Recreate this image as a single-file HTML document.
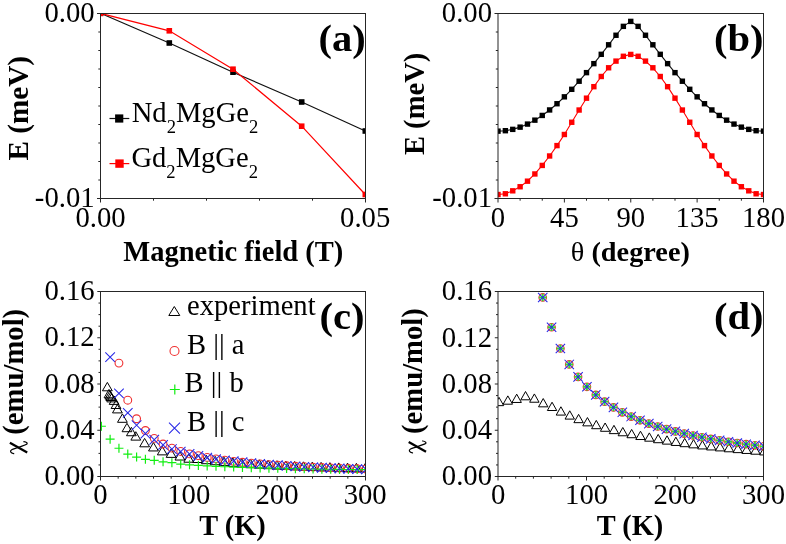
<!DOCTYPE html>
<html><head><meta charset="utf-8"><style>html,body{margin:0;padding:0;background:#fff;width:786px;height:544px;overflow:hidden}svg{display:block;will-change:transform}</style></head><body>
<svg width="786" height="544" viewBox="0 0 786 544" style="font-family:&quot;Liberation Serif&quot;,serif" fill="#000">
<rect width="786" height="544" fill="#fff"/>
<clipPath id="ca"><rect x="100.5" y="13.5" width="265.0" height="185.0"/></clipPath>
<clipPath id="cb"><rect x="498.0" y="13.5" width="265.5" height="185.0"/></clipPath>
<clipPath id="cc"><rect x="100.5" y="291.5" width="265.0" height="185.0"/></clipPath>
<clipPath id="cd"><rect x="498.0" y="291.5" width="265.5" height="185.0"/></clipPath>
<g clip-path="url(#ca)">
<polyline points="100.50,13.30 169.30,43.00 233.00,72.20 301.70,102.00 365.30,131.00" fill="none" stroke="#111" stroke-width="1.2"/>
<polyline points="100.50,13.30 169.30,30.80 233.00,69.20 301.70,126.20 365.30,194.50" fill="none" stroke="#f00" stroke-width="1.2"/>
<rect x="97.70" y="10.50" width="5.6" height="5.6" fill="#000"/>
<rect x="166.50" y="40.20" width="5.6" height="5.6" fill="#000"/>
<rect x="230.20" y="69.40" width="5.6" height="5.6" fill="#000"/>
<rect x="298.90" y="99.20" width="5.6" height="5.6" fill="#000"/>
<rect x="362.50" y="128.20" width="5.6" height="5.6" fill="#000"/>
<rect x="97.70" y="10.50" width="5.6" height="5.6" fill="#f00"/>
<rect x="166.50" y="28.00" width="5.6" height="5.6" fill="#f00"/>
<rect x="230.20" y="66.40" width="5.6" height="5.6" fill="#f00"/>
<rect x="298.90" y="123.40" width="5.6" height="5.6" fill="#f00"/>
<rect x="362.50" y="191.70" width="5.6" height="5.6" fill="#f00"/>
</g>
<rect x="100.5" y="13.5" width="265.00" height="185.00" fill="none" stroke="#262626" stroke-width="1.0"/>
<path d="M100.50 13.50H97.00 M100.50 32.00H98.30 M100.50 50.50H98.30 M100.50 69.00H98.30 M100.50 87.50H98.30 M100.50 106.00H98.30 M100.50 124.50H98.30 M100.50 143.00H98.30 M100.50 161.50H98.30 M100.50 180.00H98.30 M100.50 198.50H97.00" stroke="#262626" stroke-width="1.0" fill="none"/>
<path d="M100.50 198.50V202.50 M153.50 198.50V200.70 M206.50 198.50V200.70 M259.50 198.50V200.70 M312.50 198.50V200.70 M365.50 198.50V202.50" stroke="#262626" stroke-width="1.0" fill="none"/>
<text x="94.60" y="22.00" font-size="28.7" text-anchor="end" font-weight="normal" >0.00</text>
<text x="94.60" y="206.80" font-size="28.7" text-anchor="end" font-weight="normal" >-0.01</text>
<text x="100.50" y="226.50" font-size="28.7" text-anchor="middle" font-weight="normal" >0.00</text>
<text x="365.20" y="226.50" font-size="28.7" text-anchor="middle" font-weight="normal" >0.05</text>
<text x="233.30" y="260.50" font-size="28.5" text-anchor="middle" font-weight="bold" >Magnetic field (T)</text>
<text transform="translate(28.10,160.60) rotate(-90)" font-size="29.2" text-anchor="start" font-weight="bold" >E (meV)</text>
<text transform="translate(342.15,50.65) scale(1.055,1)" font-size="38.4" text-anchor="middle" font-weight="bold">(a)</text>
<path d="M109.5 118.5H129.3" stroke="#111" stroke-width="1.2"/>
<rect x="115.10" y="114.40" width="8.2" height="8.2" fill="#000"/>
<path d="M109.5 163.6H129.3" stroke="#f00" stroke-width="1.2"/>
<rect x="115.30" y="159.40" width="8.4" height="8.4" fill="#f00"/>
<text x="131.70" y="121.60" font-size="28.6">Nd<tspan font-size="18.6" dy="11.3">2</tspan><tspan dy="-11.3">MgGe</tspan><tspan font-size="18.6" dy="11.3">2</tspan></text>
<text x="131.40" y="167.00" font-size="28.6">Gd<tspan font-size="18.6" dy="11.3">2</tspan><tspan dy="-11.3">MgGe</tspan><tspan font-size="18.6" dy="11.3">2</tspan></text>
<g clip-path="url(#cb)">
<polyline points="498.00,131.15 505.38,130.70 512.75,129.37 520.12,127.15 527.50,124.08 534.88,120.16 542.25,115.44 549.62,109.95 557.00,103.73 564.38,96.83 571.75,89.31 579.12,81.22 586.50,72.64 593.88,63.64 601.25,54.32 608.62,44.79 616.00,35.26 623.38,26.36 630.75,21.40 638.12,26.36 645.50,35.26 652.88,44.79 660.25,54.32 667.62,63.64 675.00,72.64 682.38,81.22 689.75,89.31 697.12,96.83 704.50,103.73 711.88,109.95 719.25,115.44 726.62,120.16 734.00,124.08 741.38,127.15 748.75,129.37 756.12,130.70 763.50,131.15" fill="none" stroke="#111" stroke-width="1.1"/>
<polyline points="498.00,194.52 505.38,193.78 512.75,190.82 520.12,186.74 527.50,181.18 534.88,173.96 542.25,165.43 549.62,155.98 557.00,145.60 564.38,134.49 571.75,122.26 579.12,110.03 586.50,98.17 593.88,86.68 601.25,76.49 608.62,67.78 616.00,61.11 623.38,56.29 630.75,54.44 638.12,56.29 645.50,61.11 652.88,67.78 660.25,76.49 667.62,86.68 675.00,98.17 682.38,110.03 689.75,122.26 697.12,134.49 704.50,145.60 711.88,155.98 719.25,165.43 726.62,173.96 734.00,181.18 741.38,186.74 748.75,190.82 756.12,193.78 763.50,194.52" fill="none" stroke="#f00" stroke-width="1.1"/>
<rect x="495.30" y="128.45" width="5.4" height="5.4" fill="#000"/>
<rect x="502.68" y="128.00" width="5.4" height="5.4" fill="#000"/>
<rect x="510.05" y="126.67" width="5.4" height="5.4" fill="#000"/>
<rect x="517.42" y="124.45" width="5.4" height="5.4" fill="#000"/>
<rect x="524.80" y="121.38" width="5.4" height="5.4" fill="#000"/>
<rect x="532.17" y="117.46" width="5.4" height="5.4" fill="#000"/>
<rect x="539.55" y="112.74" width="5.4" height="5.4" fill="#000"/>
<rect x="546.92" y="107.25" width="5.4" height="5.4" fill="#000"/>
<rect x="554.30" y="101.03" width="5.4" height="5.4" fill="#000"/>
<rect x="561.67" y="94.13" width="5.4" height="5.4" fill="#000"/>
<rect x="569.05" y="86.61" width="5.4" height="5.4" fill="#000"/>
<rect x="576.42" y="78.52" width="5.4" height="5.4" fill="#000"/>
<rect x="583.80" y="69.94" width="5.4" height="5.4" fill="#000"/>
<rect x="591.17" y="60.94" width="5.4" height="5.4" fill="#000"/>
<rect x="598.55" y="51.62" width="5.4" height="5.4" fill="#000"/>
<rect x="605.92" y="42.09" width="5.4" height="5.4" fill="#000"/>
<rect x="613.30" y="32.56" width="5.4" height="5.4" fill="#000"/>
<rect x="620.67" y="23.66" width="5.4" height="5.4" fill="#000"/>
<rect x="628.05" y="18.70" width="5.4" height="5.4" fill="#000"/>
<rect x="635.42" y="23.66" width="5.4" height="5.4" fill="#000"/>
<rect x="642.80" y="32.56" width="5.4" height="5.4" fill="#000"/>
<rect x="650.17" y="42.09" width="5.4" height="5.4" fill="#000"/>
<rect x="657.55" y="51.62" width="5.4" height="5.4" fill="#000"/>
<rect x="664.92" y="60.94" width="5.4" height="5.4" fill="#000"/>
<rect x="672.30" y="69.94" width="5.4" height="5.4" fill="#000"/>
<rect x="679.67" y="78.52" width="5.4" height="5.4" fill="#000"/>
<rect x="687.05" y="86.61" width="5.4" height="5.4" fill="#000"/>
<rect x="694.42" y="94.13" width="5.4" height="5.4" fill="#000"/>
<rect x="701.80" y="101.03" width="5.4" height="5.4" fill="#000"/>
<rect x="709.17" y="107.25" width="5.4" height="5.4" fill="#000"/>
<rect x="716.55" y="112.74" width="5.4" height="5.4" fill="#000"/>
<rect x="723.92" y="117.46" width="5.4" height="5.4" fill="#000"/>
<rect x="731.30" y="121.38" width="5.4" height="5.4" fill="#000"/>
<rect x="738.67" y="124.45" width="5.4" height="5.4" fill="#000"/>
<rect x="746.05" y="126.67" width="5.4" height="5.4" fill="#000"/>
<rect x="753.42" y="128.00" width="5.4" height="5.4" fill="#000"/>
<rect x="760.80" y="128.45" width="5.4" height="5.4" fill="#000"/>
<rect x="495.30" y="191.82" width="5.4" height="5.4" fill="#f00"/>
<rect x="502.68" y="191.08" width="5.4" height="5.4" fill="#f00"/>
<rect x="510.05" y="188.12" width="5.4" height="5.4" fill="#f00"/>
<rect x="517.42" y="184.04" width="5.4" height="5.4" fill="#f00"/>
<rect x="524.80" y="178.48" width="5.4" height="5.4" fill="#f00"/>
<rect x="532.17" y="171.26" width="5.4" height="5.4" fill="#f00"/>
<rect x="539.55" y="162.73" width="5.4" height="5.4" fill="#f00"/>
<rect x="546.92" y="153.28" width="5.4" height="5.4" fill="#f00"/>
<rect x="554.30" y="142.90" width="5.4" height="5.4" fill="#f00"/>
<rect x="561.67" y="131.79" width="5.4" height="5.4" fill="#f00"/>
<rect x="569.05" y="119.56" width="5.4" height="5.4" fill="#f00"/>
<rect x="576.42" y="107.33" width="5.4" height="5.4" fill="#f00"/>
<rect x="583.80" y="95.47" width="5.4" height="5.4" fill="#f00"/>
<rect x="591.17" y="83.98" width="5.4" height="5.4" fill="#f00"/>
<rect x="598.55" y="73.79" width="5.4" height="5.4" fill="#f00"/>
<rect x="605.92" y="65.08" width="5.4" height="5.4" fill="#f00"/>
<rect x="613.30" y="58.41" width="5.4" height="5.4" fill="#f00"/>
<rect x="620.67" y="53.59" width="5.4" height="5.4" fill="#f00"/>
<rect x="628.05" y="51.74" width="5.4" height="5.4" fill="#f00"/>
<rect x="635.42" y="53.59" width="5.4" height="5.4" fill="#f00"/>
<rect x="642.80" y="58.41" width="5.4" height="5.4" fill="#f00"/>
<rect x="650.17" y="65.08" width="5.4" height="5.4" fill="#f00"/>
<rect x="657.55" y="73.79" width="5.4" height="5.4" fill="#f00"/>
<rect x="664.92" y="83.98" width="5.4" height="5.4" fill="#f00"/>
<rect x="672.30" y="95.47" width="5.4" height="5.4" fill="#f00"/>
<rect x="679.67" y="107.33" width="5.4" height="5.4" fill="#f00"/>
<rect x="687.05" y="119.56" width="5.4" height="5.4" fill="#f00"/>
<rect x="694.42" y="131.79" width="5.4" height="5.4" fill="#f00"/>
<rect x="701.80" y="142.90" width="5.4" height="5.4" fill="#f00"/>
<rect x="709.17" y="153.28" width="5.4" height="5.4" fill="#f00"/>
<rect x="716.55" y="162.73" width="5.4" height="5.4" fill="#f00"/>
<rect x="723.92" y="171.26" width="5.4" height="5.4" fill="#f00"/>
<rect x="731.30" y="178.48" width="5.4" height="5.4" fill="#f00"/>
<rect x="738.67" y="184.04" width="5.4" height="5.4" fill="#f00"/>
<rect x="746.05" y="188.12" width="5.4" height="5.4" fill="#f00"/>
<rect x="753.42" y="191.08" width="5.4" height="5.4" fill="#f00"/>
<rect x="760.80" y="191.82" width="5.4" height="5.4" fill="#f00"/>
</g>
<rect x="498.0" y="13.5" width="265.50" height="185.00" fill="none" stroke="#262626" stroke-width="1.0"/>
<path d="M498.00 13.50H494.50 M498.00 32.00H495.80 M498.00 50.50H495.80 M498.00 69.00H495.80 M498.00 87.50H495.80 M498.00 106.00H495.80 M498.00 124.50H495.80 M498.00 143.00H495.80 M498.00 161.50H495.80 M498.00 180.00H495.80 M498.00 198.50H494.50" stroke="#262626" stroke-width="1.0" fill="none"/>
<path d="M498.00 198.50V202.50 M520.12 198.50V200.70 M542.25 198.50V200.70 M564.38 198.50V202.50 M586.50 198.50V200.70 M608.62 198.50V200.70 M630.75 198.50V202.50 M652.88 198.50V200.70 M675.00 198.50V200.70 M697.12 198.50V202.50 M719.25 198.50V200.70 M741.38 198.50V200.70 M763.50 198.50V202.50" stroke="#262626" stroke-width="1.0" fill="none"/>
<text x="492.00" y="22.00" font-size="28.7" text-anchor="end" font-weight="normal" >0.00</text>
<text x="492.00" y="206.80" font-size="28.7" text-anchor="end" font-weight="normal" >-0.01</text>
<text x="498.00" y="226.50" font-size="28.7" text-anchor="middle" font-weight="normal" >0</text>
<text x="564.38" y="226.50" font-size="28.7" text-anchor="middle" font-weight="normal" >45</text>
<text x="630.75" y="226.50" font-size="28.7" text-anchor="middle" font-weight="normal" >90</text>
<text x="697.12" y="226.50" font-size="28.7" text-anchor="middle" font-weight="normal" >135</text>
<text x="763.50" y="226.50" font-size="28.7" text-anchor="middle" font-weight="normal" >180</text>
<text transform="translate(630.35,261.1) scale(1.025,1)" font-size="27.6" text-anchor="middle" font-weight="bold"><tspan font-weight="normal">&#952;</tspan> (degree)</text>
<text transform="translate(424.00,155.10) rotate(-90)" font-size="28.6" text-anchor="start" font-weight="bold" >E (meV)</text>
<text transform="translate(738.75,50.85) scale(1.055,1)" font-size="38.4" text-anchor="middle" font-weight="bold">(b)</text>
<g clip-path="url(#cc)">
<path d="M107.35 382.40L112.25 390.80H102.45Z" fill="none" stroke="#000" stroke-width="1.0" stroke-linejoin="miter"/>
<path d="M109.00 389.40L113.90 397.80H104.10Z" fill="none" stroke="#000" stroke-width="1.0" stroke-linejoin="miter"/>
<path d="M109.90 390.70L114.80 399.10H105.00Z" fill="none" stroke="#000" stroke-width="1.0" stroke-linejoin="miter"/>
<path d="M110.80 392.10L115.70 400.50H105.90Z" fill="none" stroke="#000" stroke-width="1.0" stroke-linejoin="miter"/>
<path d="M111.70 393.50L116.60 401.90H106.80Z" fill="none" stroke="#000" stroke-width="1.0" stroke-linejoin="miter"/>
<path d="M114.10 396.00L119.00 404.40H109.20Z" fill="none" stroke="#000" stroke-width="1.0" stroke-linejoin="miter"/>
<path d="M116.00 400.10L120.90 408.50H111.10Z" fill="none" stroke="#000" stroke-width="1.0" stroke-linejoin="miter"/>
<path d="M117.40 404.50L122.30 412.90H112.50Z" fill="none" stroke="#000" stroke-width="1.0" stroke-linejoin="miter"/>
<path d="M122.40 413.90L127.30 422.30H117.50Z" fill="none" stroke="#000" stroke-width="1.0" stroke-linejoin="miter"/>
<path d="M126.97 423.31L131.87 431.71H122.07Z" fill="none" stroke="#000" stroke-width="1.0" stroke-linejoin="miter"/>
<path d="M131.38 427.34L136.28 435.74H126.48Z" fill="none" stroke="#000" stroke-width="1.0" stroke-linejoin="miter"/>
<path d="M135.79 431.71L140.69 440.11H130.89Z" fill="none" stroke="#000" stroke-width="1.0" stroke-linejoin="miter"/>
<path d="M144.62 438.40L149.52 446.80H139.72Z" fill="none" stroke="#000" stroke-width="1.0" stroke-linejoin="miter"/>
<path d="M153.44 442.54L158.34 450.94H148.54Z" fill="none" stroke="#000" stroke-width="1.0" stroke-linejoin="miter"/>
<path d="M162.26 446.46L167.16 454.86H157.36Z" fill="none" stroke="#000" stroke-width="1.0" stroke-linejoin="miter"/>
<path d="M171.09 448.99L175.99 457.39H166.19Z" fill="none" stroke="#000" stroke-width="1.0" stroke-linejoin="miter"/>
<path d="M179.91 451.64L184.81 460.04H175.01Z" fill="none" stroke="#000" stroke-width="1.0" stroke-linejoin="miter"/>
<path d="M188.73 453.83L193.63 462.23H183.83Z" fill="none" stroke="#000" stroke-width="1.0" stroke-linejoin="miter"/>
<path d="M197.56 454.11L202.46 462.51H192.66Z" fill="none" stroke="#000" stroke-width="1.0" stroke-linejoin="miter"/>
<path d="M206.38 455.30L211.28 463.70H201.48Z" fill="none" stroke="#000" stroke-width="1.0" stroke-linejoin="miter"/>
<path d="M215.20 456.32L220.10 464.72H210.30Z" fill="none" stroke="#000" stroke-width="1.0" stroke-linejoin="miter"/>
<path d="M224.03 457.20L228.93 465.60H219.13Z" fill="none" stroke="#000" stroke-width="1.0" stroke-linejoin="miter"/>
<path d="M232.85 457.97L237.75 466.37H227.95Z" fill="none" stroke="#000" stroke-width="1.0" stroke-linejoin="miter"/>
<path d="M241.67 458.65L246.57 467.05H236.77Z" fill="none" stroke="#000" stroke-width="1.0" stroke-linejoin="miter"/>
<path d="M250.50 459.26L255.40 467.66H245.60Z" fill="none" stroke="#000" stroke-width="1.0" stroke-linejoin="miter"/>
<path d="M259.32 459.80L264.22 468.20H254.42Z" fill="none" stroke="#000" stroke-width="1.0" stroke-linejoin="miter"/>
<path d="M268.14 460.28L273.04 468.68H263.24Z" fill="none" stroke="#000" stroke-width="1.0" stroke-linejoin="miter"/>
<path d="M276.97 460.72L281.87 469.12H272.07Z" fill="none" stroke="#000" stroke-width="1.0" stroke-linejoin="miter"/>
<path d="M285.79 461.12L290.69 469.52H280.89Z" fill="none" stroke="#000" stroke-width="1.0" stroke-linejoin="miter"/>
<path d="M294.61 461.49L299.51 469.89H289.71Z" fill="none" stroke="#000" stroke-width="1.0" stroke-linejoin="miter"/>
<path d="M303.44 461.82L308.34 470.22H298.54Z" fill="none" stroke="#000" stroke-width="1.0" stroke-linejoin="miter"/>
<path d="M312.26 462.13L317.16 470.53H307.36Z" fill="none" stroke="#000" stroke-width="1.0" stroke-linejoin="miter"/>
<path d="M321.08 462.41L325.98 470.81H316.18Z" fill="none" stroke="#000" stroke-width="1.0" stroke-linejoin="miter"/>
<path d="M329.91 462.67L334.81 471.07H325.01Z" fill="none" stroke="#000" stroke-width="1.0" stroke-linejoin="miter"/>
<path d="M338.73 462.92L343.63 471.32H333.83Z" fill="none" stroke="#000" stroke-width="1.0" stroke-linejoin="miter"/>
<path d="M347.55 463.14L352.45 471.54H342.65Z" fill="none" stroke="#000" stroke-width="1.0" stroke-linejoin="miter"/>
<path d="M356.38 463.36L361.28 471.76H351.48Z" fill="none" stroke="#000" stroke-width="1.0" stroke-linejoin="miter"/>
<path d="M365.20 463.55L370.10 471.95H360.30Z" fill="none" stroke="#000" stroke-width="1.0" stroke-linejoin="miter"/>
<circle cx="118.95" cy="363.12" r="3.9" fill="none" stroke="#f03030" stroke-width="1.1"/>
<circle cx="127.77" cy="400.21" r="3.9" fill="none" stroke="#f03030" stroke-width="1.1"/>
<circle cx="136.59" cy="418.75" r="3.9" fill="none" stroke="#f03030" stroke-width="1.1"/>
<circle cx="145.42" cy="430.50" r="3.9" fill="none" stroke="#f03030" stroke-width="1.1"/>
<circle cx="154.24" cy="438.33" r="3.9" fill="none" stroke="#f03030" stroke-width="1.1"/>
<circle cx="163.06" cy="443.98" r="3.9" fill="none" stroke="#f03030" stroke-width="1.1"/>
<circle cx="171.89" cy="448.12" r="3.9" fill="none" stroke="#f03030" stroke-width="1.1"/>
<circle cx="180.71" cy="451.47" r="3.9" fill="none" stroke="#f03030" stroke-width="1.1"/>
<circle cx="189.53" cy="453.88" r="3.9" fill="none" stroke="#f03030" stroke-width="1.1"/>
<circle cx="198.36" cy="455.72" r="3.9" fill="none" stroke="#f03030" stroke-width="1.1"/>
<circle cx="207.18" cy="457.47" r="3.9" fill="none" stroke="#f03030" stroke-width="1.1"/>
<circle cx="216.00" cy="458.95" r="3.9" fill="none" stroke="#f03030" stroke-width="1.1"/>
<circle cx="224.83" cy="460.22" r="3.9" fill="none" stroke="#f03030" stroke-width="1.1"/>
<circle cx="233.65" cy="461.33" r="3.9" fill="none" stroke="#f03030" stroke-width="1.1"/>
<circle cx="242.47" cy="462.29" r="3.9" fill="none" stroke="#f03030" stroke-width="1.1"/>
<circle cx="251.30" cy="463.15" r="3.9" fill="none" stroke="#f03030" stroke-width="1.1"/>
<circle cx="260.12" cy="463.90" r="3.9" fill="none" stroke="#f03030" stroke-width="1.1"/>
<circle cx="268.94" cy="464.58" r="3.9" fill="none" stroke="#f03030" stroke-width="1.1"/>
<circle cx="277.77" cy="465.19" r="3.9" fill="none" stroke="#f03030" stroke-width="1.1"/>
<circle cx="286.59" cy="465.75" r="3.9" fill="none" stroke="#f03030" stroke-width="1.1"/>
<circle cx="295.41" cy="466.25" r="3.9" fill="none" stroke="#f03030" stroke-width="1.1"/>
<circle cx="304.24" cy="466.71" r="3.9" fill="none" stroke="#f03030" stroke-width="1.1"/>
<circle cx="313.06" cy="467.13" r="3.9" fill="none" stroke="#f03030" stroke-width="1.1"/>
<circle cx="321.88" cy="467.52" r="3.9" fill="none" stroke="#f03030" stroke-width="1.1"/>
<circle cx="330.71" cy="467.87" r="3.9" fill="none" stroke="#f03030" stroke-width="1.1"/>
<circle cx="339.53" cy="468.20" r="3.9" fill="none" stroke="#f03030" stroke-width="1.1"/>
<circle cx="348.35" cy="468.51" r="3.9" fill="none" stroke="#f03030" stroke-width="1.1"/>
<circle cx="357.18" cy="468.80" r="3.9" fill="none" stroke="#f03030" stroke-width="1.1"/>
<circle cx="366.00" cy="469.07" r="3.9" fill="none" stroke="#f03030" stroke-width="1.1"/>
<path d="M96.90 426.24H105.90M101.40 421.74V430.74" stroke="#1e1" stroke-width="1.2" fill="none"/>
<path d="M105.62 439.14H114.62M110.12 434.64V443.64" stroke="#1e1" stroke-width="1.2" fill="none"/>
<path d="M114.45 448.24H123.45M118.95 443.74V452.74" stroke="#1e1" stroke-width="1.2" fill="none"/>
<path d="M123.27 454.11H132.27M127.77 449.61V458.61" stroke="#1e1" stroke-width="1.2" fill="none"/>
<path d="M132.09 457.11H141.09M136.59 452.61V461.61" stroke="#1e1" stroke-width="1.2" fill="none"/>
<path d="M140.92 459.30H149.92M145.42 454.80V463.80" stroke="#1e1" stroke-width="1.2" fill="none"/>
<path d="M149.74 460.33H158.74M154.24 455.83V464.83" stroke="#1e1" stroke-width="1.2" fill="none"/>
<path d="M158.56 461.83H167.56M163.06 457.33V466.33" stroke="#1e1" stroke-width="1.2" fill="none"/>
<path d="M167.39 462.64H176.39M171.89 458.14V467.14" stroke="#1e1" stroke-width="1.2" fill="none"/>
<path d="M176.21 464.07H185.21M180.71 459.57V468.57" stroke="#1e1" stroke-width="1.2" fill="none"/>
<path d="M185.03 464.79H194.03M189.53 460.29V469.29" stroke="#1e1" stroke-width="1.2" fill="none"/>
<path d="M193.86 465.40H202.86M198.36 460.90V469.90" stroke="#1e1" stroke-width="1.2" fill="none"/>
<path d="M202.68 465.92H211.68M207.18 461.42V470.42" stroke="#1e1" stroke-width="1.2" fill="none"/>
<path d="M211.50 466.37H220.50M216.00 461.87V470.87" stroke="#1e1" stroke-width="1.2" fill="none"/>
<path d="M220.33 466.76H229.33M224.83 462.26V471.26" stroke="#1e1" stroke-width="1.2" fill="none"/>
<path d="M229.15 467.11H238.15M233.65 462.61V471.61" stroke="#1e1" stroke-width="1.2" fill="none"/>
<path d="M237.97 467.41H246.97M242.47 462.91V471.91" stroke="#1e1" stroke-width="1.2" fill="none"/>
<path d="M246.80 467.69H255.80M251.30 463.19V472.19" stroke="#1e1" stroke-width="1.2" fill="none"/>
<path d="M255.62 467.93H264.62M260.12 463.43V472.43" stroke="#1e1" stroke-width="1.2" fill="none"/>
<path d="M264.44 468.16H273.44M268.94 463.66V472.66" stroke="#1e1" stroke-width="1.2" fill="none"/>
<path d="M273.27 468.36H282.27M277.77 463.86V472.86" stroke="#1e1" stroke-width="1.2" fill="none"/>
<path d="M282.09 468.54H291.09M286.59 464.04V473.04" stroke="#1e1" stroke-width="1.2" fill="none"/>
<path d="M290.91 468.71H299.91M295.41 464.21V473.21" stroke="#1e1" stroke-width="1.2" fill="none"/>
<path d="M299.74 468.87H308.74M304.24 464.37V473.37" stroke="#1e1" stroke-width="1.2" fill="none"/>
<path d="M308.56 469.01H317.56M313.06 464.51V473.51" stroke="#1e1" stroke-width="1.2" fill="none"/>
<path d="M317.38 469.14H326.38M321.88 464.64V473.64" stroke="#1e1" stroke-width="1.2" fill="none"/>
<path d="M326.21 469.27H335.21M330.71 464.77V473.77" stroke="#1e1" stroke-width="1.2" fill="none"/>
<path d="M335.03 469.38H344.03M339.53 464.88V473.88" stroke="#1e1" stroke-width="1.2" fill="none"/>
<path d="M343.85 469.49H352.85M348.35 464.99V473.99" stroke="#1e1" stroke-width="1.2" fill="none"/>
<path d="M352.68 469.59H361.68M357.18 465.09V474.09" stroke="#1e1" stroke-width="1.2" fill="none"/>
<path d="M361.50 469.68H370.50M366.00 465.18V474.18" stroke="#1e1" stroke-width="1.2" fill="none"/>
<path d="M105.32 352.33L114.92 361.93M105.32 361.93L114.92 352.33" stroke="#2828e6" stroke-width="1.05" fill="none"/>
<path d="M114.15 388.61L123.75 398.21M114.15 398.21L123.75 388.61" stroke="#2828e6" stroke-width="1.05" fill="none"/>
<path d="M122.97 408.08L132.57 417.68M122.97 417.68L132.57 408.08" stroke="#2828e6" stroke-width="1.05" fill="none"/>
<path d="M131.79 420.40L141.39 430.00M131.79 430.00L141.39 420.40" stroke="#2828e6" stroke-width="1.05" fill="none"/>
<path d="M140.62 428.70L150.22 438.30M140.62 438.30L150.22 428.70" stroke="#2828e6" stroke-width="1.05" fill="none"/>
<path d="M149.44 434.92L159.04 444.52M149.44 444.52L159.04 434.92" stroke="#2828e6" stroke-width="1.05" fill="none"/>
<path d="M158.26 440.10L167.86 449.70M158.26 449.70L167.86 440.10" stroke="#2828e6" stroke-width="1.05" fill="none"/>
<path d="M167.09 444.25L176.69 453.85M167.09 453.85L176.69 444.25" stroke="#2828e6" stroke-width="1.05" fill="none"/>
<path d="M175.91 446.78L185.51 456.38M175.91 456.38L185.51 446.78" stroke="#2828e6" stroke-width="1.05" fill="none"/>
<path d="M184.73 449.19L194.33 458.79M184.73 458.79L194.33 449.19" stroke="#2828e6" stroke-width="1.05" fill="none"/>
<path d="M193.56 451.21L203.16 460.81M193.56 460.81L203.16 451.21" stroke="#2828e6" stroke-width="1.05" fill="none"/>
<path d="M202.38 452.93L211.98 462.53M202.38 462.53L211.98 452.93" stroke="#2828e6" stroke-width="1.05" fill="none"/>
<path d="M211.20 454.41L220.80 464.01M211.20 464.01L220.80 454.41" stroke="#2828e6" stroke-width="1.05" fill="none"/>
<path d="M220.03 455.69L229.63 465.29M220.03 465.29L229.63 455.69" stroke="#2828e6" stroke-width="1.05" fill="none"/>
<path d="M228.85 456.36L238.45 465.96M228.85 465.96L238.45 456.36" stroke="#2828e6" stroke-width="1.05" fill="none"/>
<path d="M237.67 457.36L247.27 466.96M237.67 466.96L247.27 457.36" stroke="#2828e6" stroke-width="1.05" fill="none"/>
<path d="M246.50 458.25L256.10 467.85M246.50 467.85L256.10 458.25" stroke="#2828e6" stroke-width="1.05" fill="none"/>
<path d="M255.32 459.04L264.92 468.64M255.32 468.64L264.92 459.04" stroke="#2828e6" stroke-width="1.05" fill="none"/>
<path d="M264.14 459.76L273.74 469.36M264.14 469.36L273.74 459.76" stroke="#2828e6" stroke-width="1.05" fill="none"/>
<path d="M272.97 460.41L282.57 470.01M272.97 470.01L282.57 460.41" stroke="#2828e6" stroke-width="1.05" fill="none"/>
<path d="M281.79 461.00L291.39 470.60M281.79 470.60L291.39 461.00" stroke="#2828e6" stroke-width="1.05" fill="none"/>
<path d="M290.61 461.54L300.21 471.14M290.61 471.14L300.21 461.54" stroke="#2828e6" stroke-width="1.05" fill="none"/>
<path d="M299.44 462.04L309.04 471.64M299.44 471.64L309.04 462.04" stroke="#2828e6" stroke-width="1.05" fill="none"/>
<path d="M308.26 462.50L317.86 472.10M308.26 472.10L317.86 462.50" stroke="#2828e6" stroke-width="1.05" fill="none"/>
<path d="M317.08 462.92L326.68 472.52M317.08 472.52L326.68 462.92" stroke="#2828e6" stroke-width="1.05" fill="none"/>
<path d="M325.91 463.31L335.51 472.91M325.91 472.91L335.51 463.31" stroke="#2828e6" stroke-width="1.05" fill="none"/>
<path d="M334.73 463.68L344.33 473.28M334.73 473.28L344.33 463.68" stroke="#2828e6" stroke-width="1.05" fill="none"/>
<path d="M343.55 464.02L353.15 473.62M343.55 473.62L353.15 464.02" stroke="#2828e6" stroke-width="1.05" fill="none"/>
<path d="M352.38 464.33L361.98 473.93M352.38 473.93L361.98 464.33" stroke="#2828e6" stroke-width="1.05" fill="none"/>
<path d="M361.20 464.63L370.80 474.23M361.20 474.23L370.80 464.63" stroke="#2828e6" stroke-width="1.05" fill="none"/>
</g>
<rect x="100.5" y="291.5" width="265.00" height="185.00" fill="none" stroke="#262626" stroke-width="1.0"/>
<path d="M100.50 291.50H97.30 M100.50 303.06H98.50 M100.50 314.62H98.50 M100.50 326.19H98.50 M100.50 337.75H97.30 M100.50 349.31H98.50 M100.50 360.88H98.50 M100.50 372.44H98.50 M100.50 384.00H97.30 M100.50 395.56H98.50 M100.50 407.12H98.50 M100.50 418.69H98.50 M100.50 430.25H97.30 M100.50 441.81H98.50 M100.50 453.38H98.50 M100.50 464.94H98.50 M100.50 476.50H97.30" stroke="#262626" stroke-width="1.0" fill="none"/>
<path d="M100.50 476.50V480.50 M118.17 476.50V478.70 M135.83 476.50V478.70 M153.50 476.50V478.70 M171.17 476.50V478.70 M188.83 476.50V480.50 M206.50 476.50V478.70 M224.17 476.50V478.70 M241.83 476.50V478.70 M259.50 476.50V478.70 M277.17 476.50V480.50 M294.83 476.50V478.70 M312.50 476.50V478.70 M330.17 476.50V478.70 M347.83 476.50V478.70 M365.50 476.50V480.50" stroke="#262626" stroke-width="1.0" fill="none"/>
<text x="94.60" y="484.70" font-size="28.7" text-anchor="end" font-weight="normal" >0.00</text>
<text x="94.60" y="438.62" font-size="28.7" text-anchor="end" font-weight="normal" >0.04</text>
<text x="94.60" y="392.55" font-size="28.7" text-anchor="end" font-weight="normal" >0.08</text>
<text x="94.60" y="346.47" font-size="28.7" text-anchor="end" font-weight="normal" >0.12</text>
<text x="94.60" y="300.40" font-size="28.7" text-anchor="end" font-weight="normal" >0.16</text>
<text x="100.50" y="504.00" font-size="28.7" text-anchor="middle" font-weight="normal" >0</text>
<text x="188.73" y="504.00" font-size="28.7" text-anchor="middle" font-weight="normal" >100</text>
<text x="276.97" y="504.00" font-size="28.7" text-anchor="middle" font-weight="normal" >200</text>
<text x="365.20" y="504.00" font-size="28.7" text-anchor="middle" font-weight="normal" >300</text>
<text x="232.50" y="535.20" font-size="28.4" text-anchor="middle" font-weight="bold" >T (K)</text>
<g transform="translate(23.3,454.6) rotate(-90)"><path d="M11.9 -13.4 L2.2 3.9" stroke="#000" stroke-width="2.3" stroke-linecap="butt" fill="none"/><path d="M1.0 -9.6 C1.4 -12.6 3.6 -13.9 4.9 -11.6 C5.9 -9.6 6.4 -6.6 7.3 -4.6 C8.4 -1.8 9.3 1.6 10.3 3.3 C11.2 4.6 12.6 3.3 12.9 0.6" stroke="#000" stroke-width="1.25" stroke-linecap="round" fill="none"/><text x="19.9" y="0" font-size="28.7" font-weight="bold">(emu/mol)</text></g>
<text transform="translate(342.00,328.65) scale(1.06,1)" font-size="38.4" text-anchor="middle" font-weight="bold">(c)</text>
<path d="M174.30 306.50L179.80 315.50H168.80Z" fill="none" stroke="#000" stroke-width="1.0" stroke-linejoin="miter"/>
<text x="187.00" y="315.10" font-size="28.6" text-anchor="start" font-weight="normal" >experiment</text>
<circle cx="174.50" cy="351.00" r="4.5" fill="none" stroke="#f03030" stroke-width="1.1"/>
<text x="187.00" y="353.60" font-size="28.6" text-anchor="start" font-weight="normal" >B || a</text>
<path d="M169.80 389.50H179.80M174.80 384.50V394.50" stroke="#1e1" stroke-width="1.2" fill="none"/>
<text x="184.60" y="392.20" font-size="28.6" text-anchor="start" font-weight="normal" >B || b</text>
<path d="M169.00 422.60L180.00 433.60M169.00 433.60L180.00 422.60" stroke="#2828e6" stroke-width="1.05" fill="none"/>
<text x="187.00" y="430.80" font-size="28.6" text-anchor="start" font-weight="normal" >B || c</text>
<g clip-path="url(#cd)">
<path d="M499.00 397.35L503.70 405.65H494.30Z" fill="none" stroke="#000" stroke-width="1.0" stroke-linejoin="miter"/>
<path d="M507.84 395.89L512.54 404.19H503.14Z" fill="none" stroke="#000" stroke-width="1.0" stroke-linejoin="miter"/>
<path d="M516.69 394.16L521.39 402.46H511.99Z" fill="none" stroke="#000" stroke-width="1.0" stroke-linejoin="miter"/>
<path d="M525.53 391.51L530.23 399.81H520.83Z" fill="none" stroke="#000" stroke-width="1.0" stroke-linejoin="miter"/>
<path d="M534.37 393.93L539.07 402.23H529.67Z" fill="none" stroke="#000" stroke-width="1.0" stroke-linejoin="miter"/>
<path d="M543.22 398.54L547.92 406.84H538.52Z" fill="none" stroke="#000" stroke-width="1.0" stroke-linejoin="miter"/>
<path d="M552.06 402.21L556.76 410.51H547.36Z" fill="none" stroke="#000" stroke-width="1.0" stroke-linejoin="miter"/>
<path d="M560.90 406.78L565.60 415.08H556.20Z" fill="none" stroke="#000" stroke-width="1.0" stroke-linejoin="miter"/>
<path d="M569.75 410.80L574.45 419.10H565.05Z" fill="none" stroke="#000" stroke-width="1.0" stroke-linejoin="miter"/>
<path d="M578.59 414.37L583.29 422.67H573.89Z" fill="none" stroke="#000" stroke-width="1.0" stroke-linejoin="miter"/>
<path d="M587.43 417.55L592.13 425.85H582.73Z" fill="none" stroke="#000" stroke-width="1.0" stroke-linejoin="miter"/>
<path d="M596.28 420.41L600.98 428.71H591.58Z" fill="none" stroke="#000" stroke-width="1.0" stroke-linejoin="miter"/>
<path d="M605.12 422.99L609.82 431.29H600.42Z" fill="none" stroke="#000" stroke-width="1.0" stroke-linejoin="miter"/>
<path d="M613.96 425.33L618.66 433.63H609.26Z" fill="none" stroke="#000" stroke-width="1.0" stroke-linejoin="miter"/>
<path d="M622.81 427.47L627.51 435.77H618.11Z" fill="none" stroke="#000" stroke-width="1.0" stroke-linejoin="miter"/>
<path d="M631.65 429.43L636.35 437.73H626.95Z" fill="none" stroke="#000" stroke-width="1.0" stroke-linejoin="miter"/>
<path d="M640.49 431.22L645.19 439.52H635.79Z" fill="none" stroke="#000" stroke-width="1.0" stroke-linejoin="miter"/>
<path d="M649.34 432.88L654.04 441.18H644.64Z" fill="none" stroke="#000" stroke-width="1.0" stroke-linejoin="miter"/>
<path d="M658.18 434.41L662.88 442.71H653.48Z" fill="none" stroke="#000" stroke-width="1.0" stroke-linejoin="miter"/>
<path d="M667.02 435.84L671.72 444.14H662.32Z" fill="none" stroke="#000" stroke-width="1.0" stroke-linejoin="miter"/>
<path d="M675.87 437.16L680.57 445.46H671.17Z" fill="none" stroke="#000" stroke-width="1.0" stroke-linejoin="miter"/>
<path d="M684.71 438.39L689.41 446.69H680.01Z" fill="none" stroke="#000" stroke-width="1.0" stroke-linejoin="miter"/>
<path d="M693.55 439.55L698.25 447.85H688.85Z" fill="none" stroke="#000" stroke-width="1.0" stroke-linejoin="miter"/>
<path d="M702.40 440.63L707.10 448.93H697.70Z" fill="none" stroke="#000" stroke-width="1.0" stroke-linejoin="miter"/>
<path d="M711.24 441.64L715.94 449.94H706.54Z" fill="none" stroke="#000" stroke-width="1.0" stroke-linejoin="miter"/>
<path d="M720.08 442.60L724.78 450.90H715.38Z" fill="none" stroke="#000" stroke-width="1.0" stroke-linejoin="miter"/>
<path d="M728.93 443.49L733.63 451.79H724.23Z" fill="none" stroke="#000" stroke-width="1.0" stroke-linejoin="miter"/>
<path d="M737.77 444.34L742.47 452.64H733.07Z" fill="none" stroke="#000" stroke-width="1.0" stroke-linejoin="miter"/>
<path d="M746.61 445.15L751.31 453.45H741.91Z" fill="none" stroke="#000" stroke-width="1.0" stroke-linejoin="miter"/>
<path d="M755.46 445.91L760.16 454.21H750.76Z" fill="none" stroke="#000" stroke-width="1.0" stroke-linejoin="miter"/>
<path d="M764.30 446.63L769.00 454.93H759.60Z" fill="none" stroke="#000" stroke-width="1.0" stroke-linejoin="miter"/>
<circle cx="542.72" cy="297.46" r="3.8" fill="none" stroke="#f03030" stroke-width="1.1"/>
<circle cx="551.56" cy="327.24" r="3.8" fill="none" stroke="#f03030" stroke-width="1.1"/>
<circle cx="560.40" cy="348.50" r="3.8" fill="none" stroke="#f03030" stroke-width="1.1"/>
<circle cx="569.25" cy="364.45" r="3.8" fill="none" stroke="#f03030" stroke-width="1.1"/>
<circle cx="578.09" cy="376.86" r="3.8" fill="none" stroke="#f03030" stroke-width="1.1"/>
<circle cx="586.93" cy="386.78" r="3.8" fill="none" stroke="#f03030" stroke-width="1.1"/>
<circle cx="595.78" cy="394.90" r="3.8" fill="none" stroke="#f03030" stroke-width="1.1"/>
<circle cx="604.62" cy="401.67" r="3.8" fill="none" stroke="#f03030" stroke-width="1.1"/>
<circle cx="613.46" cy="407.39" r="3.8" fill="none" stroke="#f03030" stroke-width="1.1"/>
<circle cx="622.31" cy="412.30" r="3.8" fill="none" stroke="#f03030" stroke-width="1.1"/>
<circle cx="631.15" cy="416.55" r="3.8" fill="none" stroke="#f03030" stroke-width="1.1"/>
<circle cx="639.99" cy="420.28" r="3.8" fill="none" stroke="#f03030" stroke-width="1.1"/>
<circle cx="648.84" cy="423.56" r="3.8" fill="none" stroke="#f03030" stroke-width="1.1"/>
<circle cx="657.68" cy="426.48" r="3.8" fill="none" stroke="#f03030" stroke-width="1.1"/>
<circle cx="666.52" cy="429.09" r="3.8" fill="none" stroke="#f03030" stroke-width="1.1"/>
<circle cx="675.37" cy="431.44" r="3.8" fill="none" stroke="#f03030" stroke-width="1.1"/>
<circle cx="684.21" cy="433.57" r="3.8" fill="none" stroke="#f03030" stroke-width="1.1"/>
<circle cx="693.05" cy="435.50" r="3.8" fill="none" stroke="#f03030" stroke-width="1.1"/>
<circle cx="701.90" cy="437.27" r="3.8" fill="none" stroke="#f03030" stroke-width="1.1"/>
<circle cx="710.74" cy="438.88" r="3.8" fill="none" stroke="#f03030" stroke-width="1.1"/>
<circle cx="719.58" cy="440.37" r="3.8" fill="none" stroke="#f03030" stroke-width="1.1"/>
<circle cx="728.43" cy="441.75" r="3.8" fill="none" stroke="#f03030" stroke-width="1.1"/>
<circle cx="737.27" cy="443.02" r="3.8" fill="none" stroke="#f03030" stroke-width="1.1"/>
<circle cx="746.11" cy="444.20" r="3.8" fill="none" stroke="#f03030" stroke-width="1.1"/>
<circle cx="754.96" cy="445.30" r="3.8" fill="none" stroke="#f03030" stroke-width="1.1"/>
<circle cx="763.80" cy="446.33" r="3.8" fill="none" stroke="#f03030" stroke-width="1.1"/>
<path d="M538.92 297.46H546.52M542.72 293.66V301.26" stroke="#3d3" stroke-width="1.9" fill="none"/>
<path d="M547.76 327.24H555.36M551.56 323.44V331.04" stroke="#3d3" stroke-width="1.9" fill="none"/>
<path d="M556.60 348.50H564.20M560.40 344.70V352.30" stroke="#3d3" stroke-width="1.9" fill="none"/>
<path d="M565.45 364.45H573.05M569.25 360.65V368.25" stroke="#3d3" stroke-width="1.9" fill="none"/>
<path d="M574.29 376.86H581.89M578.09 373.06V380.66" stroke="#3d3" stroke-width="1.9" fill="none"/>
<path d="M583.13 386.78H590.73M586.93 382.98V390.58" stroke="#3d3" stroke-width="1.9" fill="none"/>
<path d="M591.98 394.90H599.58M595.78 391.10V398.70" stroke="#3d3" stroke-width="1.9" fill="none"/>
<path d="M600.82 401.67H608.42M604.62 397.87V405.47" stroke="#3d3" stroke-width="1.9" fill="none"/>
<path d="M609.66 407.39H617.26M613.46 403.59V411.19" stroke="#3d3" stroke-width="1.9" fill="none"/>
<path d="M618.51 412.30H626.11M622.31 408.50V416.10" stroke="#3d3" stroke-width="1.9" fill="none"/>
<path d="M627.35 416.55H634.95M631.15 412.75V420.35" stroke="#3d3" stroke-width="1.9" fill="none"/>
<path d="M636.19 420.28H643.79M639.99 416.48V424.08" stroke="#3d3" stroke-width="1.9" fill="none"/>
<path d="M645.04 423.56H652.64M648.84 419.76V427.36" stroke="#3d3" stroke-width="1.9" fill="none"/>
<path d="M653.88 426.48H661.48M657.68 422.68V430.28" stroke="#3d3" stroke-width="1.9" fill="none"/>
<path d="M662.72 429.09H670.32M666.52 425.29V432.89" stroke="#3d3" stroke-width="1.9" fill="none"/>
<path d="M671.57 431.44H679.17M675.37 427.64V435.24" stroke="#3d3" stroke-width="1.9" fill="none"/>
<path d="M680.41 433.57H688.01M684.21 429.77V437.37" stroke="#3d3" stroke-width="1.9" fill="none"/>
<path d="M689.25 435.50H696.85M693.05 431.70V439.30" stroke="#3d3" stroke-width="1.9" fill="none"/>
<path d="M698.10 437.27H705.70M701.90 433.47V441.07" stroke="#3d3" stroke-width="1.9" fill="none"/>
<path d="M706.94 438.88H714.54M710.74 435.08V442.68" stroke="#3d3" stroke-width="1.9" fill="none"/>
<path d="M715.78 440.37H723.38M719.58 436.57V444.17" stroke="#3d3" stroke-width="1.9" fill="none"/>
<path d="M724.63 441.75H732.23M728.43 437.95V445.55" stroke="#3d3" stroke-width="1.9" fill="none"/>
<path d="M733.47 443.02H741.07M737.27 439.22V446.82" stroke="#3d3" stroke-width="1.9" fill="none"/>
<path d="M742.31 444.20H749.91M746.11 440.40V448.00" stroke="#3d3" stroke-width="1.9" fill="none"/>
<path d="M751.16 445.30H758.76M754.96 441.50V449.10" stroke="#3d3" stroke-width="1.9" fill="none"/>
<path d="M760.00 446.33H767.60M763.80 442.53V450.13" stroke="#3d3" stroke-width="1.9" fill="none"/>
<path d="M538.02 292.76L547.42 302.16M538.02 302.16L547.42 292.76" stroke="#2828e6" stroke-width="1.05" fill="none"/>
<path d="M546.86 322.54L556.26 331.94M546.86 331.94L556.26 322.54" stroke="#2828e6" stroke-width="1.05" fill="none"/>
<path d="M555.70 343.80L565.10 353.20M555.70 353.20L565.10 343.80" stroke="#2828e6" stroke-width="1.05" fill="none"/>
<path d="M564.55 359.75L573.95 369.15M564.55 369.15L573.95 359.75" stroke="#2828e6" stroke-width="1.05" fill="none"/>
<path d="M573.39 372.16L582.79 381.56M573.39 381.56L582.79 372.16" stroke="#2828e6" stroke-width="1.05" fill="none"/>
<path d="M582.23 382.08L591.63 391.48M582.23 391.48L591.63 382.08" stroke="#2828e6" stroke-width="1.05" fill="none"/>
<path d="M591.08 390.20L600.48 399.60M591.08 399.60L600.48 390.20" stroke="#2828e6" stroke-width="1.05" fill="none"/>
<path d="M599.92 396.97L609.32 406.37M599.92 406.37L609.32 396.97" stroke="#2828e6" stroke-width="1.05" fill="none"/>
<path d="M608.76 402.69L618.16 412.09M608.76 412.09L618.16 402.69" stroke="#2828e6" stroke-width="1.05" fill="none"/>
<path d="M617.61 407.60L627.01 417.00M617.61 417.00L627.01 407.60" stroke="#2828e6" stroke-width="1.05" fill="none"/>
<path d="M626.45 411.85L635.85 421.25M626.45 421.25L635.85 411.85" stroke="#2828e6" stroke-width="1.05" fill="none"/>
<path d="M635.29 415.58L644.69 424.98M635.29 424.98L644.69 415.58" stroke="#2828e6" stroke-width="1.05" fill="none"/>
<path d="M644.14 418.86L653.54 428.26M644.14 428.26L653.54 418.86" stroke="#2828e6" stroke-width="1.05" fill="none"/>
<path d="M652.98 421.78L662.38 431.18M652.98 431.18L662.38 421.78" stroke="#2828e6" stroke-width="1.05" fill="none"/>
<path d="M661.82 424.39L671.22 433.79M661.82 433.79L671.22 424.39" stroke="#2828e6" stroke-width="1.05" fill="none"/>
<path d="M670.67 426.74L680.07 436.14M670.67 436.14L680.07 426.74" stroke="#2828e6" stroke-width="1.05" fill="none"/>
<path d="M679.51 428.87L688.91 438.27M679.51 438.27L688.91 428.87" stroke="#2828e6" stroke-width="1.05" fill="none"/>
<path d="M688.35 430.80L697.75 440.20M688.35 440.20L697.75 430.80" stroke="#2828e6" stroke-width="1.05" fill="none"/>
<path d="M697.20 432.57L706.60 441.97M697.20 441.97L706.60 432.57" stroke="#2828e6" stroke-width="1.05" fill="none"/>
<path d="M706.04 434.18L715.44 443.58M706.04 443.58L715.44 434.18" stroke="#2828e6" stroke-width="1.05" fill="none"/>
<path d="M714.88 435.67L724.28 445.07M714.88 445.07L724.28 435.67" stroke="#2828e6" stroke-width="1.05" fill="none"/>
<path d="M723.73 437.05L733.13 446.45M723.73 446.45L733.13 437.05" stroke="#2828e6" stroke-width="1.05" fill="none"/>
<path d="M732.57 438.32L741.97 447.72M732.57 447.72L741.97 438.32" stroke="#2828e6" stroke-width="1.05" fill="none"/>
<path d="M741.41 439.50L750.81 448.90M741.41 448.90L750.81 439.50" stroke="#2828e6" stroke-width="1.05" fill="none"/>
<path d="M750.26 440.60L759.66 450.00M750.26 450.00L759.66 440.60" stroke="#2828e6" stroke-width="1.05" fill="none"/>
<path d="M759.10 441.63L768.50 451.03M759.10 451.03L768.50 441.63" stroke="#2828e6" stroke-width="1.05" fill="none"/>
</g>
<rect x="498.0" y="291.5" width="265.50" height="185.00" fill="none" stroke="#262626" stroke-width="1.0"/>
<path d="M498.00 291.50H494.80 M498.00 303.06H496.00 M498.00 314.62H496.00 M498.00 326.19H496.00 M498.00 337.75H494.80 M498.00 349.31H496.00 M498.00 360.88H496.00 M498.00 372.44H496.00 M498.00 384.00H494.80 M498.00 395.56H496.00 M498.00 407.12H496.00 M498.00 418.69H496.00 M498.00 430.25H494.80 M498.00 441.81H496.00 M498.00 453.38H496.00 M498.00 464.94H496.00 M498.00 476.50H494.80" stroke="#262626" stroke-width="1.0" fill="none"/>
<path d="M498.00 476.50V480.50 M515.70 476.50V478.70 M533.40 476.50V478.70 M551.10 476.50V478.70 M568.80 476.50V478.70 M586.50 476.50V480.50 M604.20 476.50V478.70 M621.90 476.50V478.70 M639.60 476.50V478.70 M657.30 476.50V478.70 M675.00 476.50V480.50 M692.70 476.50V478.70 M710.40 476.50V478.70 M728.10 476.50V478.70 M745.80 476.50V478.70 M763.50 476.50V480.50" stroke="#262626" stroke-width="1.0" fill="none"/>
<text x="492.00" y="484.80" font-size="28.7" text-anchor="end" font-weight="normal" >0.00</text>
<text x="492.00" y="438.70" font-size="28.7" text-anchor="end" font-weight="normal" >0.04</text>
<text x="492.00" y="392.60" font-size="28.7" text-anchor="end" font-weight="normal" >0.08</text>
<text x="492.00" y="346.50" font-size="28.7" text-anchor="end" font-weight="normal" >0.12</text>
<text x="492.00" y="300.40" font-size="28.7" text-anchor="end" font-weight="normal" >0.16</text>
<text x="498.20" y="504.00" font-size="28.7" text-anchor="middle" font-weight="normal" >0</text>
<text x="586.63" y="504.00" font-size="28.7" text-anchor="middle" font-weight="normal" >100</text>
<text x="675.07" y="504.00" font-size="28.7" text-anchor="middle" font-weight="normal" >200</text>
<text x="763.50" y="504.00" font-size="28.7" text-anchor="middle" font-weight="normal" >300</text>
<text x="630.00" y="535.20" font-size="28.4" text-anchor="middle" font-weight="bold" >T (K)</text>
<g transform="translate(422.1,453.9) rotate(-90)"><path d="M11.9 -13.4 L2.2 3.9" stroke="#000" stroke-width="2.3" stroke-linecap="butt" fill="none"/><path d="M1.0 -9.6 C1.4 -12.6 3.6 -13.9 4.9 -11.6 C5.9 -9.6 6.4 -6.6 7.3 -4.6 C8.4 -1.8 9.3 1.6 10.3 3.3 C11.2 4.6 12.6 3.3 12.9 0.6" stroke="#000" stroke-width="1.25" stroke-linecap="round" fill="none"/><text x="19.9" y="0" font-size="28.7" font-weight="bold">(emu/mol)</text></g>
<text transform="translate(738.75,328.65) scale(1.055,1)" font-size="38.4" text-anchor="middle" font-weight="bold">(d)</text>
</svg>
</body></html>
